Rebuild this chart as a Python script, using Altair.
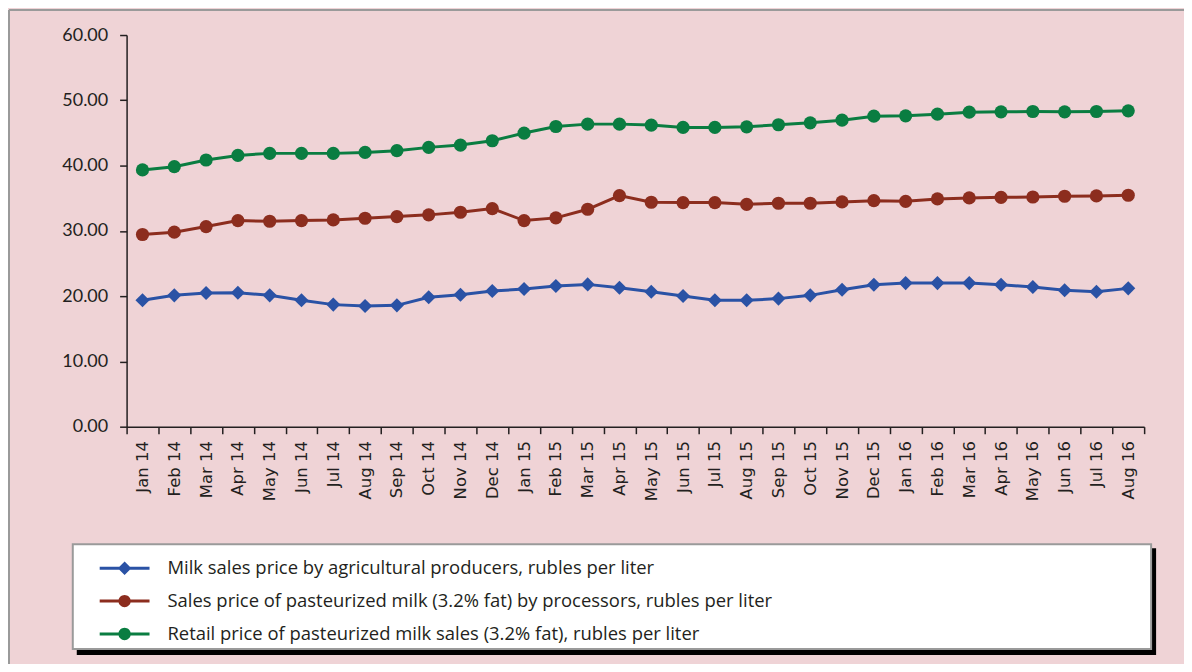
import altair as alt
import pandas as pd

months = ["Jan 14", "Feb 14", "Mar 14", "Apr 14", "May 14", "Jun 14", "Jul 14", "Aug 14",
          "Sep 14", "Oct 14", "Nov 14", "Dec 14", "Jan 15", "Feb 15", "Mar 15", "Apr 15",
          "May 15", "Jun 15", "Jul 15", "Aug 15", "Sep 15", "Oct 15", "Nov 15", "Dec 15",
          "Jan 16", "Feb 16", "Mar 16", "Apr 16", "May 16", "Jun 16", "Jul 16", "Aug 16"]

producer = [19.36, 20.12, 20.47, 20.53, 20.12, 19.36, 18.70, 18.49, 18.59, 19.82, 20.22, 20.78,
            21.09, 21.55, 21.80, 21.29, 20.68, 20.02, 19.36, 19.36, 19.62, 20.12, 20.99, 21.75,
            22.00, 22.00, 22.00, 21.75, 21.39, 20.89, 20.68, 21.19]
processor = [29.44, 29.80, 30.66, 31.58, 31.47, 31.58, 31.68, 31.93, 32.19, 32.45, 32.85, 33.41,
             31.58, 31.99, 33.31, 35.40, 34.38, 34.33, 34.33, 34.07, 34.23, 34.23, 34.43, 34.63,
             34.53, 34.89, 35.04, 35.14, 35.19, 35.30, 35.35, 35.45]
retail = [39.33, 39.83, 40.85, 41.56, 41.87, 41.87, 41.87, 42.02, 42.28, 42.79, 43.14, 43.80,
          44.98, 45.99, 46.35, 46.35, 46.20, 45.84, 45.84, 45.94, 46.25, 46.55, 46.96, 47.57,
          47.62, 47.88, 48.18, 48.23, 48.28, 48.23, 48.28, 48.39]

series_names = [
    "Milk sales price by agricultural producers, rubles per liter",
    "Sales price of pasteurized milk (3.2% fat) by processors, rubles per liter",
    "Retail price of pasteurized milk sales (3.2% fat), rubles per liter",
]
series_colors = ["#2a52a5", "#8c2d1e", "#0a7d41"]
y_ticks = [0, 10, 20, 30, 40, 50, 60]

rows = []
for name, vals in zip(series_names, [producer, processor, retail]):
    for m, v in zip(months, vals):
        rows.append({"month": m, "price": v, "series": name})
df = pd.DataFrame(rows)

W, H = 1021, 393
PINK = "#efd3d6"
INK = "#231f20"

x_enc = alt.X(
    "month:N", sort=months,
    scale=alt.Scale(type="band", domain=months, paddingInner=0, paddingOuter=0),
    axis=alt.Axis(title=None, labelAngle=-90, tickBand="extent", labelFont="DejaVu Sans",
                  labelFontSize=16.5, labelColor=INK, tickColor=INK, domainColor=INK,
                  tickSize=7, tickWidth=1.5, domainWidth=1.5, labelPadding=7, grid=False),
)
y_enc = alt.Y(
    "price:Q", scale=alt.Scale(domain=[0, 60], nice=False),
    axis=alt.Axis(title=None, values=y_ticks, format=".2f", grid=False, labelFont="Lato",
                  labelFontSize=18, labelColor=INK, tickColor=INK, domainColor=INK,
                  tickSize=7, tickWidth=1.5, domainWidth=1.5, labelPadding=12),
)
stroke_enc = alt.Stroke("series:N", scale=alt.Scale(domain=series_names, range=series_colors), legend=None)
fill_enc = alt.Fill("series:N", scale=alt.Scale(domain=series_names, range=series_colors), legend=None)

lines = alt.Chart(df).mark_line(strokeWidth=3).encode(x_enc, y_enc, stroke_enc)
diamonds = alt.Chart(df).transform_filter(alt.datum.series == series_names[0]).mark_point(
    shape="diamond", filled=True, size=200, opacity=1, strokeWidth=0).encode(x_enc, y_enc, fill_enc)
circles = alt.Chart(df).transform_filter(alt.datum.series != series_names[0]).mark_point(
    shape="circle", filled=True, size=175, opacity=1, strokeWidth=0).encode(x_enc, y_enc, fill_enc)

# legend symbols: a thin bar (the line) plus the marker, all filled
bar = "M-2.5,-0.15L2.5,-0.15L2.5,0.15L-2.5,0.15Z"
circle_path = bar + "M0.62,0A0.62,0.62,0,1,1,-0.62,0A0.62,0.62,0,1,1,0.62,0Z"
diamond_path = bar + "M0,-0.68L0.68,0L0,0.68L-0.68,0Z"
leg = alt.Legend(title=None, orient="none", legendX=-12, legendY=525, symbolSize=400,
                 symbolStrokeWidth=0, labelFont="Open Sans", labelFontSize=18.5, labelColor=INK,
                 labelOffset=33, rowPadding=13, labelLimit=1000, padding=0, zindex=5)
legend_layer = alt.Chart(df).transform_filter("false").mark_point(filled=True, opacity=1).encode(
    color=alt.Color("series:N", scale=alt.Scale(domain=series_names, range=series_colors), legend=leg),
    shape=alt.Shape("series:N", scale=alt.Scale(domain=series_names,
                                                range=[diamond_path, circle_path, circle_path]), legend=leg),
)

deco = pd.DataFrame({"k": [0]})
frame_left = alt.Chart(deco).mark_rule(color="#9a9a9a", strokeWidth=2).encode(
    x=alt.value(-118), y=alt.value(-25), y2=alt.value(H + 300))
frame_top = alt.Chart(deco).mark_rule(color="#9a9a9a", strokeWidth=2).encode(
    y=alt.value(-25), x=alt.value(-118), x2=alt.value(W + 100))
shadow = alt.Chart(deco).mark_rect(color="#000000").encode(
    x=alt.value(-50), x2=alt.value(1033), y=alt.value(515), y2=alt.value(622))
box = alt.Chart(deco).mark_rect(fill="#ffffff", stroke="#9a9a9a", strokeWidth=2).encode(
    x=alt.value(-54), x2=alt.value(1028), y=alt.value(511), y2=alt.value(616))

chart = alt.layer(frame_left, frame_top, shadow, box, lines, diamonds, circles, legend_layer).resolve_scale(
    color="independent", shape="independent"
).properties(
    width=W, height=H, background=PINK,
    autosize=alt.AutoSizeParams(type="none"),
    padding={"left": 119, "top": 26, "right": 40, "bottom": 237},
).configure_view(stroke=None, fill=PINK)

chart.save("out.html", embed_options={"renderer": "svg", "actions": False})
